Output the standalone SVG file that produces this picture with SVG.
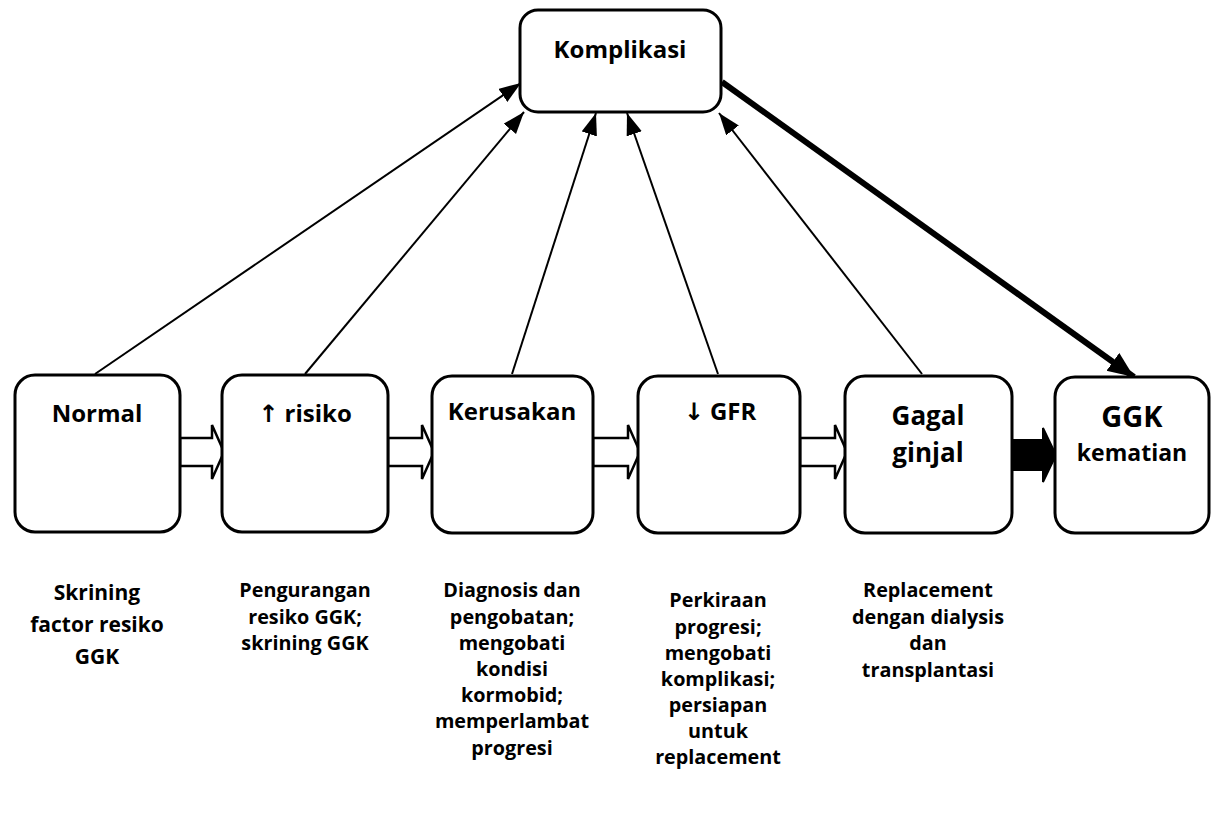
<svg xmlns="http://www.w3.org/2000/svg" width="1212" height="818" viewBox="0 0 1212 818">
<style>
.box{fill:#fff;stroke:#000;stroke-width:3}
.t{font-family:"Open Sans","Liberation Sans",sans-serif;font-weight:bold;fill:#000;text-anchor:middle}
.ar{font-family:"DejaVu Sans",sans-serif;font-weight:bold}
.ln{stroke:#000;stroke-width:2;fill:none}
.blk{fill:#fff;stroke:#000;stroke-width:2.5;stroke-linejoin:miter}
.sub{font-size:19.8px}
</style>
<defs>
<marker id="ah" markerUnits="userSpaceOnUse" markerWidth="24" markerHeight="18" refX="22" refY="8" orient="auto">
<path d="M0,0 L22,8 L0,16 z" fill="#000"/>
</marker>
<marker id="ahb" markerUnits="userSpaceOnUse" markerWidth="28" markerHeight="24" refX="26" refY="11" orient="auto">
<path d="M0,0 L26,11 L0,22 z" fill="#000"/>
</marker>
</defs>
<rect width="1212" height="818" fill="#fff"/>
<g id="connectors">
<line class="ln" x1="95" y1="374" x2="521" y2="83" marker-end="url(#ah)"/>
<line class="ln" x1="305" y1="374" x2="524" y2="112" marker-end="url(#ah)"/>
<line class="ln" x1="512" y1="374" x2="596" y2="113" marker-end="url(#ah)"/>
<line class="ln" x1="718" y1="374" x2="627" y2="113" marker-end="url(#ah)"/>
<line class="ln" x1="922" y1="374" x2="719" y2="113" marker-end="url(#ah)"/>
<line x1="722" y1="82" x2="1134" y2="377" stroke="#000" stroke-width="6" marker-end="url(#ahb)"/>
<polygon class="blk" points="180,438 212,438 212,425 224,452 212,479 212,466 180,466"/>
<polygon class="blk" points="388,438 422,438 422,425 434,452 422,479 422,466 388,466"/>
<polygon class="blk" points="593,438 628,438 628,425 640,452 628,479 628,466 593,466"/>
<polygon class="blk" points="800,438 835,438 835,425 847,452 835,479 835,466 800,466"/>
<polygon points="1010,440 1043,440 1043,428 1056,455 1043,482 1043,470 1010,470" fill="#000" stroke="#000" stroke-width="2"/>
</g>
<g id="komplikasi">
<rect class="box" x="520" y="10" width="201" height="102" rx="18"/>
<text class="t" x="620" y="58" font-size="24">Komplikasi</text>
</g>
<g id="normal">
<rect class="box" x="15" y="375" width="165" height="157" rx="20"/>
<text class="t" x="97" y="422" font-size="24">Normal</text>
</g>
<g id="risiko">
<rect class="box" x="222" y="375" width="166" height="157" rx="20"/>
<text class="t" x="305" y="422" font-size="24"><tspan class="ar">↑</tspan> risiko</text>
</g>
<g id="kerusakan">
<rect class="box" x="432" y="376" width="161" height="157" rx="20"/>
<text class="t" x="512" y="420" font-size="24">Kerusakan</text>
</g>
<g id="gfr">
<rect class="box" x="638" y="376" width="162" height="157" rx="20"/>
<text class="t" x="720" y="420" font-size="24"><tspan class="ar">↓</tspan> GFR</text>
</g>
<g id="gagal">
<rect class="box" x="845" y="376" width="167" height="157" rx="20"/>
<text class="t" x="928" y="425" font-size="26">Gagal</text>
<text class="t" x="928" y="462" font-size="26">ginjal</text>
</g>
<g id="ggk">
<rect class="box" x="1055" y="377" width="154" height="156" rx="20"/>
<text class="t" x="1132" y="427" font-size="29">GGK</text>
<text class="t" x="1132" y="461" font-size="23">kematian</text>
</g>
<g id="desc1" class="t" font-size="21">
<text x="97" y="600">Skrining</text>
<text x="97" y="632">factor resiko</text>
<text x="97" y="664">GGK</text>
</g>
<g id="desc2" class="t sub">
<text x="305" y="597">Pengurangan</text>
<text x="305" y="624">resiko GGK;</text>
<text x="305" y="650">skrining GGK</text>
</g>
<g id="desc3" class="t sub">
<text x="512" y="597">Diagnosis dan</text>
<text x="512" y="624">pengobatan;</text>
<text x="512" y="650">mengobati</text>
<text x="512" y="676">kondisi</text>
<text x="512" y="702">kormobid;</text>
<text x="512" y="728">memperlambat</text>
<text x="512" y="755">progresi</text>
</g>
<g id="desc4" class="t sub">
<text x="718" y="607">Perkiraan</text>
<text x="718" y="634">progresi;</text>
<text x="718" y="660">mengobati</text>
<text x="718" y="686">komplikasi;</text>
<text x="718" y="712">persiapan</text>
<text x="718" y="738">untuk</text>
<text x="718" y="764">replacement</text>
</g>
<g id="desc5" class="t sub">
<text x="928" y="597">Replacement</text>
<text x="928" y="624">dengan dialysis</text>
<text x="928" y="650">dan</text>
<text x="928" y="677">transplantasi</text>
</g>
</svg>
